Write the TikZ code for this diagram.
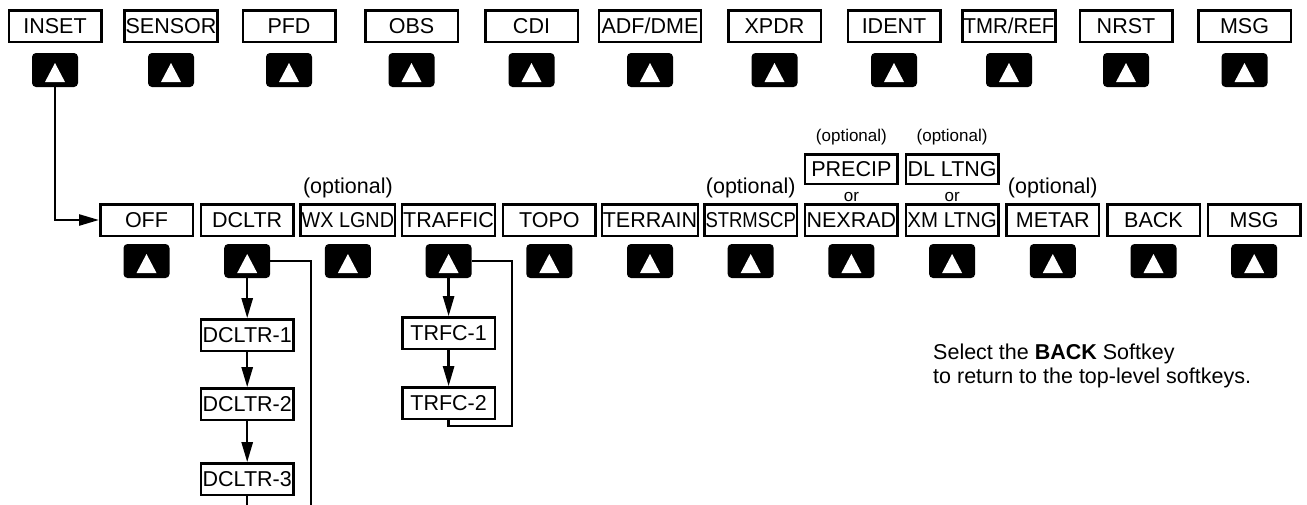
\documentclass[tikz,border=0pt]{standalone}
\usepackage{fontspec}
\setmainfont{Liberation Sans}
\usetikzlibrary{arrows.meta,positioning}

\newcommand{\narrow}[2]{\scalebox{#1}[1]{#2}}

\tikzset{
    key label/.style={rectangle,draw,line width=2.5pt,minimum width=92.5pt,minimum height=31.5pt,
        inner xsep=1pt,inner ysep=0pt,font=\fontsize{21.5}{24}\selectfont},
    key button/.style={rectangle,fill=black,rounded corners=4pt,minimum width=46pt,minimum height=34pt,inner sep=0pt,
        path picture={\fill[white,sharp corners] ([shift={(-10pt,-12pt)}]path picture bounding box.center)
            -- ++(20pt,0pt) -- ++(-10pt,19pt) -- cycle;}},
    note/.style={inner sep=0pt,font=\fontsize{21.5}{24}\selectfont},
    small note/.style={inner sep=0pt,font=\fontsize{17}{19}\selectfont},
    link/.style={line width=2.5pt},
    flow/.style={line width=2.5pt,-{Triangle[length=20pt,width=11pt]}}
    }

\begin{document}
\begin{tikzpicture}[x=1pt,y=-1pt]
    \useasboundingbox (0,0) rectangle (1307,504);
    \clip (0,0) rectangle (1307,504);
    % Top level softkeys
    \foreach \lbl/\x/\w [count=\i from 0] in {INSET/55/92.5,SENSOR/171/92.5,PFD/289/92.5,OBS/411.5/92.5,
        CDI/531.5/92.5,{ADF/DME}/650/102,XPDR/774.5/92.5,IDENT/894/92.5,{\narrow{0.95}{TMR/REF}}/1009/92.5,
        NRST/1126/92.5,MSG/1244.5/92.5}{
        \node[key label,minimum width=\w pt] (t\i) at (\x,26) {\lbl};
        \node[key button] (k\i) at (\x,70) {};
    }
    % Inset softkeys
    \foreach \lbl [count=\i from 0] in {OFF,DCLTR,{\narrow{0.92}{WX LGND}},TRAFFIC,TOPO,TERRAIN,
        {\narrow{0.86}{STRMSCP}},NEXRAD,{\narrow{0.95}{XM LTNG}},METAR,BACK,MSG}{
        \node[key label] (b\i) at ({146.5+100.7*\i},220) {\lbl};
        \node[key button] (bk\i) at ({146.5+100.7*\i},261) {};
    }
    \node[key label,minimum height=29.5pt] (precip) at (851.4,169) {PRECIP};
    \node[key label,minimum height=29.5pt] (dlltng) at (952.1,169) {DL LTNG};
    \node[small note,anchor=base] (opt3) at (851.4,141) {(optional)};
    \node[small note,anchor=base] (opt4) at (952.1,141) {(optional)};
    \node[small note,anchor=base] (or1) at (851.4,201) {or};
    \node[small note,anchor=base] (or2) at (952.1,201) {or};
    \node[note,anchor=base] (opt0) at (347.9,193) {(optional)};
    \node[note,anchor=base] (opt1) at (750.7,193) {(optional)};
    \node[note,anchor=base] (opt2) at (1052.8,193) {(optional)};
    % Declutter and traffic levels
    \node[key label,below=40pt of bk1] (d1) {DCLTR-1};
    \node[key label,below=35pt of d1] (d2) {DCLTR-2};
    \node[key label,below=41pt of d2] (d3) {DCLTR-3};
    \node[key label,below=38pt of bk3] (r1) {TRFC-1};
    \node[key label,below=36pt of r1] (r2) {TRFC-2};
    \coordinate (dret) at (311,525);
    \coordinate (rret) at (512,426);
    % Connectors
    \draw[flow] (k0.south) |- (b0.west);
    \draw[flow] (bk1) -- (d1);
    \draw[flow] (d1) -- (d2);
    \draw[flow] (d2) -- (d3);
    \draw[link] (d3.south) |- (dret) |- (bk1.east);
    \draw[flow] (bk3) -- (r1);
    \draw[flow] (r1) -- (r2);
    \draw[link] (r2.south) |- (rret) |- (bk3.east);
    \node[note,anchor=north west,align=left] (hint) at (933,343.5)
        {Select the \textbf{BACK} Softkey\\to return to the top-level softkeys.};
\end{tikzpicture}
\end{document}
